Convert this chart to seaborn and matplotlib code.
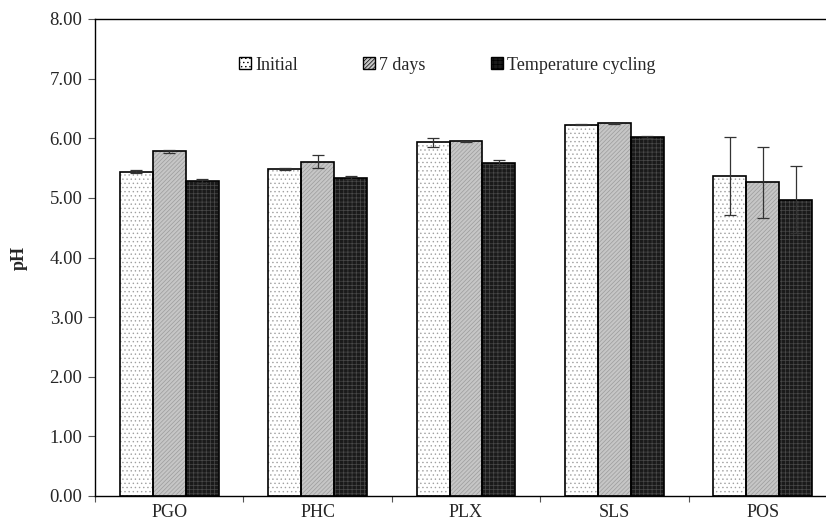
import pandas as pd
import numpy as np
import matplotlib
matplotlib.use("Agg")
import matplotlib.pyplot as plt
import seaborn as sns
from matplotlib.patches import Rectangle, Patch

# Datos
samples = ["PGO", "PHC", "PLX", "SLS", "POS"]
conditions = ["Initial", "7 days", "Temperature cycling"]
ph_initial = [5.44, 5.48, 5.93, 6.23, 5.37]
ph_7days = [5.78, 5.61, 5.95, 6.25, 5.26]
ph_cycling = [5.28, 5.34, 5.58, 6.02, 4.97]
sd_initial = [0.02, 0.02, 0.07, 0.01, 0.65]
sd_7days = [0.02, 0.11, 0.01, 0.01, 0.59]
sd_cycling = [0.03, 0.02, 0.05, 0.01, 0.56]


def make_plot():
    sns.set_theme(style="white")
    plt.rcParams["font.family"] = ["Liberation Serif", "DejaVu Serif"]
    plt.rcParams["hatch.linewidth"] = 0.5

    df = pd.DataFrame({
        "sample": samples * 3,
        "condition": np.repeat(conditions, len(samples)),
        "pH": ph_initial + ph_7days + ph_cycling,
        "sd": sd_initial + sd_7days + sd_cycling,
    })

    styles = {
        "Initial": dict(face="#ffffff", hatch="....", hcol="#a0a0a0"),
        "7 days": dict(face="#c6c6c6", hatch="////////", hcol="#9c9c9c"),
        "Temperature cycling": dict(face="#1a1a1a", hatch="++++", hcol="#4a4a4a"),
    }

    fig = plt.figure(figsize=(8.26, 5.26), dpi=100, facecolor="white")
    ax = fig.add_axes([95 / 826, 30 / 526, 742 / 826, 477 / 526])

    sns.barplot(data=df, x="sample", y="pH", hue="condition", order=samples,
                hue_order=conditions, width=0.667, errorbar=None,
                palette=[styles[c]["face"] for c in conditions], saturation=1,
                ax=ax, legend=False)

    # patrones, contornos y barras de error
    for cont, cond in zip(ax.containers, conditions):
        st = styles[cond]
        sds = df[df["condition"] == cond]["sd"].values
        for bar, sd in zip(cont, sds):
            bar.set_hatch(st["hatch"])
            bar.set_edgecolor(st["hcol"])
            bar.set_linewidth(0)
            x0, w, h = bar.get_x(), bar.get_width(), bar.get_height()
            ax.add_patch(Rectangle((x0, 0), w, h, fill=False, edgecolor="black",
                                   linewidth=1.2, zorder=3))
            ax.errorbar(x0 + w / 2, h, yerr=sd, fmt="none", ecolor="#333333",
                        elinewidth=0.9, capsize=4, capthick=0.9, zorder=4)

    ax.set_ylim(0, 8)
    ax.set_yticks(np.arange(0, 8.01, 1))
    ax.set_yticklabels([f"{v:.2f}" for v in np.arange(0, 8.01, 1)], fontsize=13.5)
    ax.set_xlim(-0.5, len(samples) - 0.5)
    ax.set_xticks(np.arange(-0.5, len(samples), 1))
    ax.set_xticklabels([])
    ax.set_xticks(np.arange(len(samples)), minor=True)
    ax.set_xticklabels(samples, minor=True, fontsize=13)
    ax.tick_params(axis="x", which="minor", length=0, pad=6)
    ax.tick_params(axis="x", which="major", direction="out", length=4, width=0.8,
                   bottom=True, color="#555555")
    ax.tick_params(axis="y", direction="out", length=5, width=0.8, left=True,
                   color="#555555", pad=4)
    ax.set_xlabel("")
    ax.set_ylabel("pH", fontsize=13, fontweight="bold", labelpad=16)
    for sp in ax.spines.values():
        sp.set_color("black")
        sp.set_linewidth(1.0)

    handles = [Patch(facecolor=styles[c]["face"], edgecolor="black",
                     hatch=styles[c]["hatch"], linewidth=1.0) for c in conditions]
    fig.legend(handles, conditions, loc="center left", bbox_to_anchor=(232 / 826, 1 - 65 / 526),
               ncol=3, frameon=False, fontsize=13, handlelength=0.65, handleheight=0.65,
               handletextpad=0.25, columnspacing=3.6, borderaxespad=0)

    fig.savefig("out.png", dpi=100, facecolor="white")
    plt.close(fig)


if __name__ == "__main__":
    make_plot()
